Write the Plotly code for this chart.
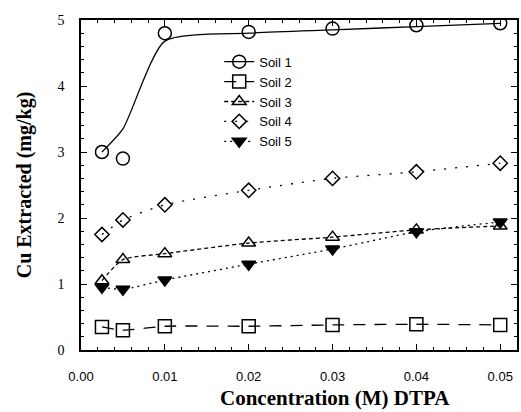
import plotly.graph_objects as go

conc = [0.0025, 0.005, 0.01, 0.02, 0.03, 0.04, 0.05]
soil1 = [3.0, 2.9, 4.8, 4.82, 4.87, 4.92, 4.95]
soil1_curve = [3.0, 3.35, 4.68, 4.8, 4.85, 4.9, 4.95]
soil2 = [0.35, 0.30, 0.36, 0.36, 0.38, 0.39, 0.38]
soil3 = [1.05, 1.37, 1.46, 1.62, 1.71, 1.82, 1.88]
soil4 = [1.75, 1.97, 2.2, 2.42, 2.6, 2.7, 2.83]
soil5 = [0.95, 0.92, 1.06, 1.30, 1.53, 1.79, 1.94]

names = ["Soil 1", "Soil 2", "Soil 3", "Soil 4", "Soil 5"]
symbols = ["circle-open", "square-open", "triangle-up-open", "diamond-open", "triangle-down"]
dashes = ["solid", "12px,9px", "4px,3px", "2px,9px", "2px,4px"]
sizes = [13, 13, 12, 11, 12]
markers_y = [soil1, soil2, soil3, soil4, soil5]
lines_y = [soil1_curve, soil2, soil3, soil4, soil5]

fig = go.Figure()
for i in range(5):
    fig.add_trace(go.Scatter(
        x=conc, y=lines_y[i], mode="lines", line=dict(color="black", width=1.3, dash=dashes[i], shape="spline", smoothing=0.6),
        showlegend=False, hoverinfo="skip"))
for i in range(5):
    fig.add_trace(go.Scatter(
        x=conc, y=markers_y[i], mode="markers",
        marker=dict(symbol=symbols[i], size=sizes[i], color="black", line=dict(color="black", width=1.5)),
        showlegend=False))
for i in range(5):
    fig.add_trace(go.Scatter(
        x=[None], y=[None], mode="lines+markers", name=names[i],
        line=dict(color="black", width=1.3, dash=dashes[i]),
        marker=dict(symbol=symbols[i], size=sizes[i], color="black", line=dict(color="black", width=1.5))))

axis_common = dict(showgrid=False, zeroline=False, showline=True, linecolor="black", linewidth=1.5,
                   mirror="ticks", ticks="inside", ticklen=6, tickcolor="black", tickwidth=1.2)

fig.update_layout(
    width=521, height=412,
    margin=dict(l=81, r=2, t=20, b=62),
    paper_bgcolor="white", plot_bgcolor="white",
    font=dict(family="Liberation Sans", color="black", size=13),
    xaxis=dict(range=[0, 0.052], tickvals=[0, 0.01, 0.02, 0.03, 0.04, 0.05],
               ticktext=["0.00", "0.01", "0.02", "0.03", "0.04", "0.05"],
               minor=dict(dtick=0.002, tick0=0, ticks="inside", ticklen=3, tickcolor="black"),
               ticklabelstandoff=14,
               tickfont=dict(family="Liberation Sans", size=13),
               **axis_common),
    yaxis=dict(range=[0, 5], tickvals=[0, 1, 2, 3, 4, 5],
               minor=dict(dtick=0.2, tick0=0, ticks="inside", ticklen=3, tickcolor="black"),
               ticklabelstandoff=12,
               title=dict(text="<b>Cu Extracted (mg/kg)</b>", font=dict(family="Liberation Serif", size=20), standoff=20),
               tickfont=dict(family="Liberation Serif", size=14),
               **axis_common),
    legend=dict(x=0.317, y=0.919, xanchor="left", yanchor="top", bgcolor="rgba(0,0,0,0)",
                font=dict(family="Liberation Sans", size=13), tracegroupgap=0, itemsizing="trace"),
    annotations=[dict(text="<b>Concentration (M) DTPA</b>", xref="paper", yref="paper",
                      x=0.582, y=-0.145, xanchor="center", yanchor="middle", showarrow=False,
                      font=dict(family="Liberation Serif", size=21))],
)

fig.write_html("out.html", config={"displayModeBar": False},
               post_script="document.body.style.margin='0';document.body.style.overflow='hidden';")
